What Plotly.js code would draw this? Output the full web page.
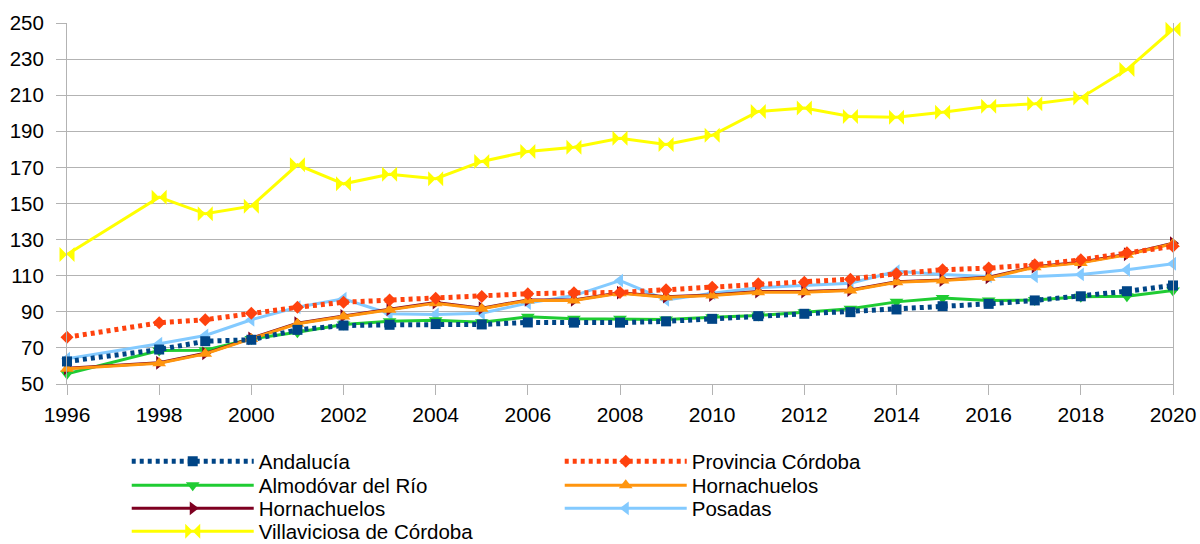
<!DOCTYPE html>
<html>
<head>
<meta charset="utf-8">
<script src="https://cdn.plot.ly/plotly-3.0.1.min.js"></script>
<style>html,body{margin:0;padding:0;background:#fff;}#chart{width:1200px;height:544px;}</style>
</head>
<body>
<div id="chart"></div>
<script>
const years = [1996,1998,1999,2000,2001,2002,2003,2004,2005,2006,2007,2008,2009,2010,2011,2012,2013,2014,2015,2016,2017,2018,2019,2020];
const andalucia = [62.5,69.1,73.7,74.5,80.0,82.4,82.8,83.2,83.0,84.1,84.0,84.0,84.7,86.1,87.6,88.9,89.8,91.3,93.1,94.4,96.3,98.6,101.4,104.6];
const provinciaCordoba = [75.9,83.9,85.6,89.2,92.5,95.3,96.6,97.5,98.5,100.0,100.5,100.7,102.2,103.6,105.5,106.4,108.1,111.1,113.3,114.2,116.0,118.8,122.7,126.3];
const almodovar = [55.7,68.6,68.7,75.0,78.7,83.0,84.8,85.3,84.2,87.2,86.1,86.1,85.7,87.0,88.0,89.8,91.7,95.5,97.6,96.3,96.5,98.3,98.6,101.8];
const hornachuelos = [58.4,61.5,66.7,75.0,83.4,87.4,91.1,94.8,91.7,96.3,96.3,100.3,98.1,99.0,100.9,100.9,101.8,106.4,107.3,108.8,114.7,117.1,121.6,127.7];
const hornachuelos2 = [58.7,61.8,67.0,75.3,83.7,87.7,91.4,95.1,92.0,96.6,96.6,100.6,98.4,99.3,101.2,101.2,102.1,106.7,107.6,109.1,115.0,117.4,121.9,128.0];
const posadas = [64.0,72.3,76.9,85.6,92.5,97.2,88.9,88.5,89.2,94.8,99.0,107.3,96.6,100.3,103.3,104.6,105.8,112.5,110.7,109.6,109.6,110.7,113.3,116.6];
const villaviciosa = [121.7,153.5,144.3,148.5,171.4,160.9,166.2,163.7,173.3,178.8,181.2,186.2,182.7,187.8,201.0,202.9,198.2,197.8,200.6,203.9,205.2,208.5,224.2,246.6];
const yTicks = [50,70,90,110,130,150,170,190,210,230,250];
const xTicks = [1996,1998,2000,2002,2004,2006,2008,2010,2012,2014,2016,2018,2020];

function tr(name, y, color, width, dash, symbol, msize, legend, rank) {
  return {
    type: 'scatter', mode: 'lines+markers', name: name, x: years, y: y,
    line: {color: color, width: width, dash: dash},
    marker: {symbol: symbol, size: msize, color: color, line: {width: 0}},
    legend: legend, legendrank: rank, cliponaxis: false
  };
}

const data = [
  tr('Posadas', posadas, '#83caff', 3, 'solid', 'triangle-left', 12, 'legend3', 2),
  tr('Almodóvar del Río', almodovar, '#1fcc33', 3, 'solid', 'triangle-down', 12, 'legend2', 1),
  tr('Hornachuelos', hornachuelos2, '#7e0021', 3, 'solid', 'triangle-right', 12, 'legend3', 1),
  tr('Hornachuelos', hornachuelos, '#ff950e', 3, 'solid', 'triangle-up', 12, 'legend2', 2),
  tr('Andalucía', andalucia, '#004586', 5, '4px,4px', 'square', 10, 'legend', 1),
  tr('Provincia Córdoba', provinciaCordoba, '#ff420e', 5, '4px,4px', 'diamond', 10, 'legend', 2),
  tr('Villaviciosa de Córdoba', villaviciosa, '#ffff00', 3, 'solid', 'bowtie', 15, 'legend4', 1)
];

function leg(ycenter) {
  return {
    orientation: 'h', x: 0.054, y: ycenter, xanchor: 'left', yanchor: 'middle',
    entrywidth: 296, entrywidthmode: 'pixels', itemwidth: 122,
    font: {size: 20.5, color: '#000'}, bgcolor: 'rgba(0,0,0,0)',
    traceorder: 'normal', borderwidth: 0
  };
}

const layout = {
  width: 1200, height: 544,
  margin: {l: 67, r: 27, t: 23, b: 160, pad: 0, autoexpand: false},
  paper_bgcolor: '#ffffff', plot_bgcolor: '#ffffff',
  font: {family: 'Liberation Sans, Arial, sans-serif', size: 20, color: '#000000'},
  showlegend: true,
  xaxis: {
    range: [1996, 2020], tickvals: xTicks, ticktext: xTicks.map(String),
    showgrid: false, zeroline: false,
    showline: true, linecolor: '#b3b3b3', linewidth: 1,
    ticks: 'outside', ticklen: 10, tickcolor: '#b3b3b3', tickwidth: 1,
    ticklabelstandoff: 2,
    tickfont: {size: 21, color: '#000'}
  },
  yaxis: {
    range: [50, 250], tickvals: yTicks, ticktext: yTicks.map(String),
    showgrid: true, gridcolor: '#b3b3b3', gridwidth: 1, zeroline: false,
    showline: true, mirror: true, linecolor: '#b3b3b3', linewidth: 1,
    ticks: 'outside', ticklen: 10, tickcolor: '#b3b3b3', tickwidth: 1,
    ticklabelstandoff: 8,
    tickfont: {size: 20.5, color: '#000'}
  },
  legend: leg(-0.2147),
  legend2: leg(-0.2812),
  legend3: leg(-0.3449),
  legend4: leg(-0.4086)
};

Plotly.newPlot('chart', data, layout, {displayModeBar: false, staticPlot: true});
</script>
</body>
</html>
